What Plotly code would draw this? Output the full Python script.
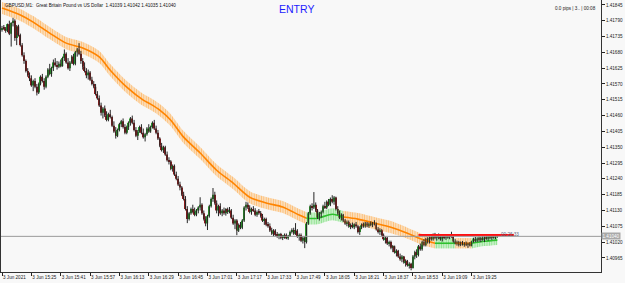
import pandas as pd
import plotly.graph_objects as go

symbol_title = "GBPUSD,M1:  Great Britain Pound vs US Dollar"
start_time = "2021-06-03 15:09"

opens = [1.41760, 1.41765, 1.41762, 1.41755, 1.41778, 1.41745, 1.41782, 1.41790, 1.41730, 1.41770,
         1.41740, 1.41705, 1.41670, 1.41650, 1.41615, 1.41600, 1.41590, 1.41565, 1.41580, 1.41560,
         1.41540, 1.41570, 1.41595, 1.41580, 1.41560, 1.41595, 1.41620, 1.41605, 1.41625, 1.41645,
         1.41635, 1.41630, 1.41640, 1.41632, 1.41660, 1.41675, 1.41645, 1.41625, 1.41645, 1.41665,
         1.41640, 1.41680, 1.41690, 1.41675, 1.41650, 1.41630, 1.41615, 1.41600, 1.41610, 1.41585,
         1.41570, 1.41560, 1.41535, 1.41520, 1.41495, 1.41470, 1.41485, 1.41460, 1.41445, 1.41465,
         1.41455, 1.41425, 1.41405, 1.41390, 1.41410, 1.41430, 1.41440, 1.41420, 1.41400, 1.41420,
         1.41435, 1.41450, 1.41435, 1.41410, 1.41390, 1.41405, 1.41420, 1.41400, 1.41385, 1.41395,
         1.41415, 1.41405, 1.41420, 1.41435, 1.41415, 1.41400, 1.41380, 1.41355, 1.41340, 1.41350,
         1.41325, 1.41305, 1.41300, 1.41275, 1.41285, 1.41255, 1.41240, 1.41220, 1.41210, 1.41185,
         1.41170, 1.41135, 1.41100, 1.41120, 1.41135, 1.41125, 1.41115, 1.41130, 1.41140, 1.41150,
         1.41120, 1.41100, 1.41085, 1.41110, 1.41145, 1.41170, 1.41185, 1.41155, 1.41130, 1.41145,
         1.41120, 1.41130, 1.41120, 1.41135, 1.41125, 1.41130, 1.41105, 1.41085, 1.41095, 1.41060,
         1.41080, 1.41070, 1.41095, 1.41140, 1.41150, 1.41140, 1.41125, 1.41135, 1.41130, 1.41115,
         1.41125, 1.41120, 1.41110, 1.41095, 1.41100, 1.41080, 1.41075, 1.41060, 1.41050, 1.41060,
         1.41045, 1.41040, 1.41048, 1.41035, 1.41040, 1.41045, 1.41033, 1.41042, 1.41055, 1.41062,
         1.41050, 1.41060, 1.41040, 1.41045, 1.41025, 1.41035, 1.41020, 1.41085, 1.41120, 1.41145,
         1.41140, 1.41150, 1.41130, 1.41105, 1.41120, 1.41125, 1.41145, 1.41140, 1.41160, 1.41150,
         1.41170, 1.41160, 1.41175, 1.41135, 1.41120, 1.41105, 1.41115, 1.41095, 1.41085, 1.41090,
         1.41075, 1.41080, 1.41072, 1.41082, 1.41075, 1.41055, 1.41070, 1.41080, 1.41075, 1.41085,
         1.41078, 1.41084, 1.41080, 1.41087, 1.41082, 1.41065, 1.41055, 1.41062, 1.41045, 1.41030,
         1.41035, 1.41015, 1.41020, 1.41000, 1.41005, 1.40985, 1.40990, 1.40970, 1.40960, 1.40970,
         1.40950, 1.40955, 1.40940, 1.40945, 1.40930, 1.40970, 1.40985, 1.40975, 1.41005, 1.40995,
         1.41020, 1.41010, 1.41030, 1.41020, 1.41035, 1.41030, 1.41045, 1.41035, 1.41042, 1.41038,
         1.41030, 1.41040, 1.41035, 1.41042, 1.41036, 1.41043, 1.41040, 1.41022, 1.41015, 1.41020,
         1.41010, 1.41018, 1.41012, 1.41016, 1.41010, 1.41014, 1.41008, 1.41022, 1.41030, 1.41025,
         1.41032, 1.41028, 1.41034, 1.41030, 1.41036, 1.41032, 1.41040, 1.41035, 1.41041, 1.41036,
         1.41039]

highs = [1.41772, 1.41775, 1.41768, 1.41780, 1.41790, 1.41785, 1.41800, 1.41795, 1.41775, 1.41776,
         1.41745, 1.41712, 1.41680, 1.41655, 1.41625, 1.41610, 1.41600, 1.41585, 1.41590, 1.41570,
         1.41575, 1.41600, 1.41605, 1.41590, 1.41600, 1.41625, 1.41640, 1.41630, 1.41655, 1.41660,
         1.41650, 1.41648, 1.41655, 1.41665, 1.41690, 1.41680, 1.41660, 1.41650, 1.41670, 1.41675,
         1.41685, 1.41695, 1.41712, 1.41685, 1.41660, 1.41645, 1.41625, 1.41620, 1.41615, 1.41595,
         1.41580, 1.41570, 1.41545, 1.41530, 1.41505, 1.41490, 1.41495, 1.41475, 1.41470, 1.41480,
         1.41460, 1.41440, 1.41420, 1.41415, 1.41435, 1.41445, 1.41450, 1.41430, 1.41425, 1.41440,
         1.41455, 1.41460, 1.41445, 1.41420, 1.41410, 1.41425, 1.41430, 1.41415, 1.41400, 1.41420,
         1.41430, 1.41425, 1.41440, 1.41445, 1.41425, 1.41410, 1.41385, 1.41365, 1.41355, 1.41355,
         1.41335, 1.41315, 1.41305, 1.41290, 1.41290, 1.41265, 1.41250, 1.41230, 1.41215, 1.41195,
         1.41180, 1.41145, 1.41125, 1.41140, 1.41150, 1.41140, 1.41135, 1.41145, 1.41176, 1.41155,
         1.41130, 1.41110, 1.41115, 1.41150, 1.41175, 1.41208, 1.41195, 1.41165, 1.41150, 1.41155,
         1.41135, 1.41140, 1.41138, 1.41140, 1.41142, 1.41135, 1.41115, 1.41100, 1.41100, 1.41085,
         1.41090, 1.41100, 1.41145, 1.41160, 1.41158, 1.41148, 1.41140, 1.41145, 1.41138, 1.41130,
         1.41135, 1.41128, 1.41118, 1.41105, 1.41105, 1.41090, 1.41085, 1.41070, 1.41065, 1.41065,
         1.41055, 1.41050, 1.41052, 1.41045, 1.41050, 1.41050, 1.41045, 1.41060, 1.41068, 1.41070,
         1.41086, 1.41065, 1.41050, 1.41050, 1.41040, 1.41040, 1.41090, 1.41125, 1.41150, 1.41155,
         1.41194, 1.41158, 1.41135, 1.41125, 1.41130, 1.41150, 1.41160, 1.41165, 1.41170, 1.41175,
         1.41183, 1.41180, 1.41178, 1.41145, 1.41130, 1.41120, 1.41118, 1.41100, 1.41095, 1.41095,
         1.41085, 1.41088, 1.41085, 1.41090, 1.41080, 1.41075, 1.41085, 1.41088, 1.41090, 1.41090,
         1.41088, 1.41092, 1.41090, 1.41096, 1.41088, 1.41072, 1.41068, 1.41065, 1.41050, 1.41040,
         1.41038, 1.41025, 1.41025, 1.41010, 1.41008, 1.40995, 1.40993, 1.40980, 1.40975, 1.40972,
         1.40960, 1.40958, 1.40950, 1.40948, 1.40975, 1.40990, 1.40995, 1.41010, 1.41015, 1.41025,
         1.41030, 1.41035, 1.41037, 1.41040, 1.41045, 1.41050, 1.41052, 1.41048, 1.41050, 1.41045,
         1.41044, 1.41046, 1.41045, 1.41048, 1.41045, 1.41056, 1.41042, 1.41030, 1.41025, 1.41024,
         1.41022, 1.41024, 1.41020, 1.41022, 1.41018, 1.41020, 1.41025, 1.41035, 1.41038, 1.41036,
         1.41040, 1.41038, 1.41042, 1.41040, 1.41045, 1.41044, 1.41046, 1.41044, 1.41048, 1.41044,
         1.41042]

lows = [1.41752, 1.41758, 1.41748, 1.41750, 1.41740, 1.41700, 1.41770, 1.41720, 1.41705, 1.41735,
        1.41700, 1.41665, 1.41640, 1.41610, 1.41595, 1.41580, 1.41560, 1.41545, 1.41555, 1.41530,
        1.41535, 1.41565, 1.41575, 1.41550, 1.41555, 1.41590, 1.41600, 1.41595, 1.41615, 1.41630,
        1.41620, 1.41625, 1.41628, 1.41630, 1.41650, 1.41640, 1.41620, 1.41615, 1.41640, 1.41635,
        1.41635, 1.41665, 1.41670, 1.41640, 1.41620, 1.41610, 1.41590, 1.41585, 1.41580, 1.41565,
        1.41555, 1.41530, 1.41515, 1.41490, 1.41460, 1.41450, 1.41455, 1.41440, 1.41440, 1.41450,
        1.41420, 1.41400, 1.41380, 1.41385, 1.41405, 1.41420, 1.41415, 1.41395, 1.41395, 1.41410,
        1.41425, 1.41430, 1.41405, 1.41385, 1.41375, 1.41400, 1.41395, 1.41380, 1.41370, 1.41390,
        1.41400, 1.41400, 1.41415, 1.41410, 1.41395, 1.41375, 1.41350, 1.41335, 1.41330, 1.41320,
        1.41300, 1.41290, 1.41270, 1.41265, 1.41250, 1.41235, 1.41215, 1.41200, 1.41180, 1.41165,
        1.41130, 1.41086, 1.41095, 1.41115, 1.41120, 1.41110, 1.41110, 1.41120, 1.41130, 1.41115,
        1.41095, 1.41075, 1.41062, 1.41105, 1.41140, 1.41160, 1.41150, 1.41120, 1.41110, 1.41115,
        1.41110, 1.41115, 1.41112, 1.41118, 1.41120, 1.41100, 1.41080, 1.41065, 1.41044, 1.41055,
        1.41065, 1.41065, 1.41090, 1.41130, 1.41135, 1.41120, 1.41115, 1.41125, 1.41110, 1.41108,
        1.41115, 1.41105, 1.41090, 1.41080, 1.41075, 1.41070, 1.41055, 1.41045, 1.41040, 1.41040,
        1.41035, 1.41030, 1.41030, 1.41027, 1.41032, 1.41030, 1.41028, 1.41038, 1.41050, 1.41045,
        1.41045, 1.41035, 1.41025, 1.41020, 1.41015, 1.40999, 1.41015, 1.41080, 1.41115, 1.41130,
        1.41135, 1.41125, 1.41100, 1.41095, 1.41105, 1.41120, 1.41135, 1.41135, 1.41145, 1.41145,
        1.41155, 1.41150, 1.41130, 1.41115, 1.41100, 1.41095, 1.41090, 1.41080, 1.41075, 1.41070,
        1.41065, 1.41068, 1.41065, 1.41070, 1.41050, 1.41045, 1.41065, 1.41070, 1.41070, 1.41072,
        1.41070, 1.41075, 1.41072, 1.41078, 1.41060, 1.41050, 1.41045, 1.41040, 1.41025, 1.41015,
        1.41010, 1.41005, 1.40995, 1.40985, 1.40980, 1.40970, 1.40965, 1.40955, 1.40950, 1.40945,
        1.40935, 1.40935, 1.40928, 1.40922, 1.40928, 1.40960, 1.40965, 1.40970, 1.40990, 1.40990,
        1.41005, 1.41005, 1.41015, 1.41015, 1.41025, 1.41025, 1.41030, 1.41025, 1.41030, 1.41025,
        1.41022, 1.41030, 1.41028, 1.41032, 1.41030, 1.41035, 1.41018, 1.41012, 1.41008, 1.41005,
        1.41006, 1.41008, 1.41004, 1.41006, 1.41000, 1.41005, 1.41005, 1.41018, 1.41020, 1.41020,
        1.41022, 1.41020, 1.41025, 1.41020, 1.41028, 1.41025, 1.41030, 1.41028, 1.41032, 1.41030,
        1.41035]

closes = [1.41765, 1.41762, 1.41755, 1.41778, 1.41745, 1.41782, 1.41790, 1.41730, 1.41770, 1.41740,
          1.41705, 1.41670, 1.41650, 1.41615, 1.41600, 1.41590, 1.41565, 1.41580, 1.41560, 1.41540,
          1.41570, 1.41595, 1.41580, 1.41560, 1.41595, 1.41620, 1.41605, 1.41625, 1.41645, 1.41635,
          1.41630, 1.41640, 1.41632, 1.41660, 1.41675, 1.41645, 1.41625, 1.41645, 1.41665, 1.41640,
          1.41680, 1.41690, 1.41675, 1.41650, 1.41630, 1.41615, 1.41600, 1.41610, 1.41585, 1.41570,
          1.41560, 1.41535, 1.41520, 1.41495, 1.41470, 1.41485, 1.41460, 1.41445, 1.41465, 1.41455,
          1.41425, 1.41405, 1.41390, 1.41410, 1.41430, 1.41440, 1.41420, 1.41400, 1.41420, 1.41435,
          1.41450, 1.41435, 1.41410, 1.41390, 1.41405, 1.41420, 1.41400, 1.41385, 1.41395, 1.41415,
          1.41405, 1.41420, 1.41435, 1.41415, 1.41400, 1.41380, 1.41355, 1.41340, 1.41350, 1.41325,
          1.41305, 1.41300, 1.41275, 1.41285, 1.41255, 1.41240, 1.41220, 1.41210, 1.41185, 1.41170,
          1.41135, 1.41100, 1.41120, 1.41135, 1.41125, 1.41115, 1.41130, 1.41140, 1.41150, 1.41120,
          1.41100, 1.41085, 1.41110, 1.41145, 1.41170, 1.41185, 1.41155, 1.41130, 1.41145, 1.41120,
          1.41130, 1.41120, 1.41135, 1.41125, 1.41130, 1.41105, 1.41085, 1.41095, 1.41060, 1.41080,
          1.41070, 1.41095, 1.41140, 1.41150, 1.41140, 1.41125, 1.41135, 1.41130, 1.41115, 1.41125,
          1.41120, 1.41110, 1.41095, 1.41100, 1.41080, 1.41075, 1.41060, 1.41050, 1.41060, 1.41045,
          1.41040, 1.41048, 1.41035, 1.41040, 1.41045, 1.41033, 1.41042, 1.41055, 1.41062, 1.41050,
          1.41060, 1.41040, 1.41045, 1.41025, 1.41035, 1.41020, 1.41085, 1.41120, 1.41145, 1.41140,
          1.41150, 1.41130, 1.41105, 1.41120, 1.41125, 1.41145, 1.41140, 1.41160, 1.41150, 1.41170,
          1.41160, 1.41175, 1.41135, 1.41120, 1.41105, 1.41115, 1.41095, 1.41085, 1.41090, 1.41075,
          1.41080, 1.41072, 1.41082, 1.41075, 1.41055, 1.41070, 1.41080, 1.41075, 1.41085, 1.41078,
          1.41084, 1.41080, 1.41087, 1.41082, 1.41065, 1.41055, 1.41062, 1.41045, 1.41030, 1.41035,
          1.41015, 1.41020, 1.41000, 1.41005, 1.40985, 1.40990, 1.40970, 1.40960, 1.40970, 1.40950,
          1.40955, 1.40940, 1.40945, 1.40930, 1.40970, 1.40985, 1.40975, 1.41005, 1.40995, 1.41020,
          1.41010, 1.41030, 1.41020, 1.41035, 1.41030, 1.41045, 1.41035, 1.41042, 1.41038, 1.41030,
          1.41040, 1.41035, 1.41042, 1.41036, 1.41043, 1.41040, 1.41022, 1.41015, 1.41020, 1.41010,
          1.41018, 1.41012, 1.41016, 1.41010, 1.41014, 1.41008, 1.41022, 1.41030, 1.41025, 1.41032,
          1.41028, 1.41034, 1.41030, 1.41036, 1.41032, 1.41040, 1.41035, 1.41041, 1.41036, 1.41039,
          1.41040]

# MA ribbon (bar index, upper, middle, lower)
rib_bar = [0, 10, 17, 26, 35, 44, 53, 59, 68, 77, 81, 86, 92, 99, 108, 117, 126, 135, 144, 153,
           162, 166, 172, 180, 186, 194, 203, 212, 221, 230, 236, 247, 256, 263, 270]
rib_mid = [1.41834, 1.41810, 1.41785, 1.41747, 1.41712, 1.41695, 1.41664, 1.41618, 1.41559, 1.41514,
           1.41500, 1.41479, 1.41444, 1.41385, 1.41330, 1.41270, 1.41225, 1.41176, 1.41156, 1.41142,
           1.41114, 1.41103, 1.41103, 1.41117, 1.41107, 1.41100, 1.41086, 1.41072, 1.41051, 1.41027,
           1.41016, 1.41016, 1.41016, 1.41023, 1.41027]
rib_hi = [1.41855, 1.41831, 1.41806, 1.41768, 1.41733, 1.41716, 1.41685, 1.41639, 1.41580, 1.41535,
          1.41521, 1.41500, 1.41465, 1.41406, 1.41351, 1.41291, 1.41246, 1.41197, 1.41177, 1.41163,
          1.41135, 1.41124, 1.41124, 1.41138, 1.41128, 1.41121, 1.41107, 1.41093, 1.41070, 1.41046,
          1.41034, 1.41034, 1.41034, 1.41040, 1.41044]
rib_lo = [1.41813, 1.41789, 1.41764, 1.41726, 1.41691, 1.41674, 1.41643, 1.41597, 1.41538, 1.41493,
          1.41479, 1.41458, 1.41423, 1.41364, 1.41309, 1.41249, 1.41204, 1.41155, 1.41135, 1.41121,
          1.41093, 1.41082, 1.41082, 1.41096, 1.41086, 1.41079, 1.41065, 1.41051, 1.41032, 1.41008,
          1.40998, 1.40998, 1.40998, 1.41006, 1.41010]
rib_seg_start = [0, 166, 186, 236, 247, 256]
rib_seg_end = [166, 186, 236, 247, 256, 270]
rib_seg_trend = ["down", "up", "down", "up", "down", "up"]

# Entry line
entry_price = 1.41045
entry_start = "2021-06-03 18:56"
entry_end = "2021-06-03 19:48"
entry_label = "00:26:33"

y_ticks = [1.41845, 1.41790, 1.41735, 1.41680, 1.41625, 1.41570, 1.41515, 1.41460, 1.41405,
           1.41350, 1.41295, 1.41240, 1.41185, 1.41130, 1.41075, 1.41020, 1.40965]
x_tick_times = ["2021-06-03 15:09", "2021-06-03 15:25", "2021-06-03 15:41", "2021-06-03 15:57",
                "2021-06-03 16:13", "2021-06-03 16:29", "2021-06-03 16:45", "2021-06-03 17:01",
                "2021-06-03 17:17", "2021-06-03 17:33", "2021-06-03 17:49", "2021-06-03 18:05",
                "2021-06-03 18:21", "2021-06-03 18:37", "2021-06-03 18:53", "2021-06-03 19:09",
                "2021-06-03 19:25"]
x_tick_text = ["3 Jun 2021", "3 Jun 15:25", "3 Jun 15:41", "3 Jun 15:57", "3 Jun 16:13",
               "3 Jun 16:29", "3 Jun 16:45", "3 Jun 17:01", "3 Jun 17:17", "3 Jun 17:33",
               "3 Jun 17:49", "3 Jun 18:05", "3 Jun 18:21", "3 Jun 18:37", "3 Jun 18:53",
               "3 Jun 19:09", "3 Jun 19:25"]

# ---------------------------------------------------------------------------
t0 = pd.Timestamp(start_time)
times = pd.date_range(t0, periods=len(closes), freq="min")
rib_times = [t0 + pd.Timedelta(minutes=b) for b in rib_bar]

FONT = "Liberation Sans"
SMALL = 4.6
seg_style = {
    "down": dict(line="#FF8400", fg="rgba(255,138,0,0.85)", bg="rgba(255,185,110,0.35)"),
    "up": dict(line="#2EC02E", fg="rgba(50,200,50,0.85)", bg="rgba(140,230,140,0.35)"),
}

fig = go.Figure()

for s, e, trend in zip(rib_seg_start, rib_seg_end, rib_seg_trend):
    idx = [k for k, b in enumerate(rib_bar) if s <= b <= e]
    st = seg_style[trend]
    xs = [rib_times[k] for k in idx]
    fig.add_trace(go.Scatter(x=xs, y=[rib_lo[k] for k in idx], mode="lines",
                             line=dict(width=0, shape="spline", smoothing=0.8),
                             showlegend=False, hoverinfo="skip"))
    fig.add_trace(go.Scatter(x=xs, y=[rib_hi[k] for k in idx], mode="lines",
                             line=dict(width=0, shape="spline", smoothing=0.8),
                             fill="tonexty",
                             fillpattern=dict(shape="|", fgcolor=st["fg"], bgcolor=st["bg"],
                                              size=2.4, solidity=0.45),
                             showlegend=False, hoverinfo="skip"))
    fig.add_trace(go.Scatter(x=xs, y=[rib_mid[k] for k in idx], mode="lines",
                             line=dict(width=1.6, color=st["line"], shape="spline", smoothing=0.8),
                             showlegend=False, hoverinfo="skip"))

# candles: wicks then bodies
wick_x, wick_y = [], []
for t, h, l in zip(times, highs, lows):
    wick_x += [t, t, None]
    wick_y += [l, h, None]
fig.add_trace(go.Scatter(x=wick_x, y=wick_y, mode="lines",
                         line=dict(color="#262626", width=1),
                         showlegend=False, hoverinfo="skip"))
body_colors = ["#2E9B2E" if c >= o else "#8E1C1C" for o, c in zip(opens, closes)]
fig.add_trace(go.Bar(x=times, y=[c - o for o, c in zip(opens, closes)], base=opens,
                     width=45000, marker=dict(color=body_colors, line=dict(width=0)),
                     showlegend=False, hoverinfo="skip"))

# current price line
fig.add_hline(y=closes[-1], line=dict(color="#9a9a9a", width=1))

# entry line
fig.add_trace(go.Scatter(x=[entry_start, entry_end], y=[entry_price, entry_price], mode="lines",
                         line=dict(color="#FF1010", width=2), showlegend=False, hoverinfo="skip"))

header = "%s  %.5f %.5f %.5f %.5f" % (symbol_title, opens[-1], highs[-1], lows[-1], closes[-1])

fig.update_layout(
    width=625, height=283, autosize=False,
    margin=dict(l=1, r=24, t=0, b=11),
    paper_bgcolor="#F8F8F8", plot_bgcolor="#F8F8F8",
    showlegend=False, barmode="overlay",
    font=dict(family=FONT, size=SMALL, color="#222222"),
    xaxis=dict(type="date",
               range=[t0 - pd.Timedelta(seconds=33), t0 + pd.Timedelta(seconds=19590)],
               tickvals=x_tick_times, ticktext=x_tick_text, tickangle=0,
               ticks="outside", ticklen=3, tickcolor="#222", tickwidth=1,
               ticklabelposition="outside right",
               tickfont=dict(family=FONT, size=SMALL, color="#222"),
               showgrid=False, zeroline=False,
               showline=True, linecolor="#333", linewidth=1, mirror=True,
               rangeslider=dict(visible=False), fixedrange=True),
    yaxis=dict(side="right", range=[1.40916, 1.41862],
               tickvals=y_ticks, ticktext=["%.5f" % v for v in y_ticks],
               ticks="outside", ticklen=3, tickcolor="#222", tickwidth=1,
               tickfont=dict(family=FONT, size=SMALL, color="#222"),
               showgrid=False, zeroline=False,
               showline=True, linecolor="#333", linewidth=1, mirror=True, fixedrange=True),
    annotations=[
        dict(text=header, xref="paper", yref="paper", x=0.004, y=0.995,
             xanchor="left", yanchor="top", showarrow=False,
             font=dict(family=FONT, size=SMALL, color="#111")),
        dict(text="ENTRY", xref="paper", yref="paper", x=0.492, y=0.995,
             xanchor="center", yanchor="top", showarrow=False,
             font=dict(family=FONT, size=10.5, color="#1c1cff")),
        dict(text="0.0 pips | 3.. | 00:08", xref="paper", yref="paper", x=0.995, y=0.985,
             xanchor="right", yanchor="top", showarrow=False,
             font=dict(family=FONT, size=SMALL, color="#222")),
        dict(text=entry_label, xref="x", yref="y",
             x=t0 + pd.Timedelta(minutes=271), y=entry_price,
             xanchor="left", yanchor="middle", showarrow=False,
             font=dict(family=FONT, size=SMALL, color="#56607a")),
        dict(text="%.5f" % closes[-1], xref="paper", yref="y", x=1.0, y=closes[-1],
             xanchor="left", yanchor="middle", showarrow=False,
             bgcolor="#A8A8A8", borderpad=0.5,
             font=dict(family=FONT, size=SMALL, color="#FFFFFF")),
    ],
)

fig.write_html("out.html")
